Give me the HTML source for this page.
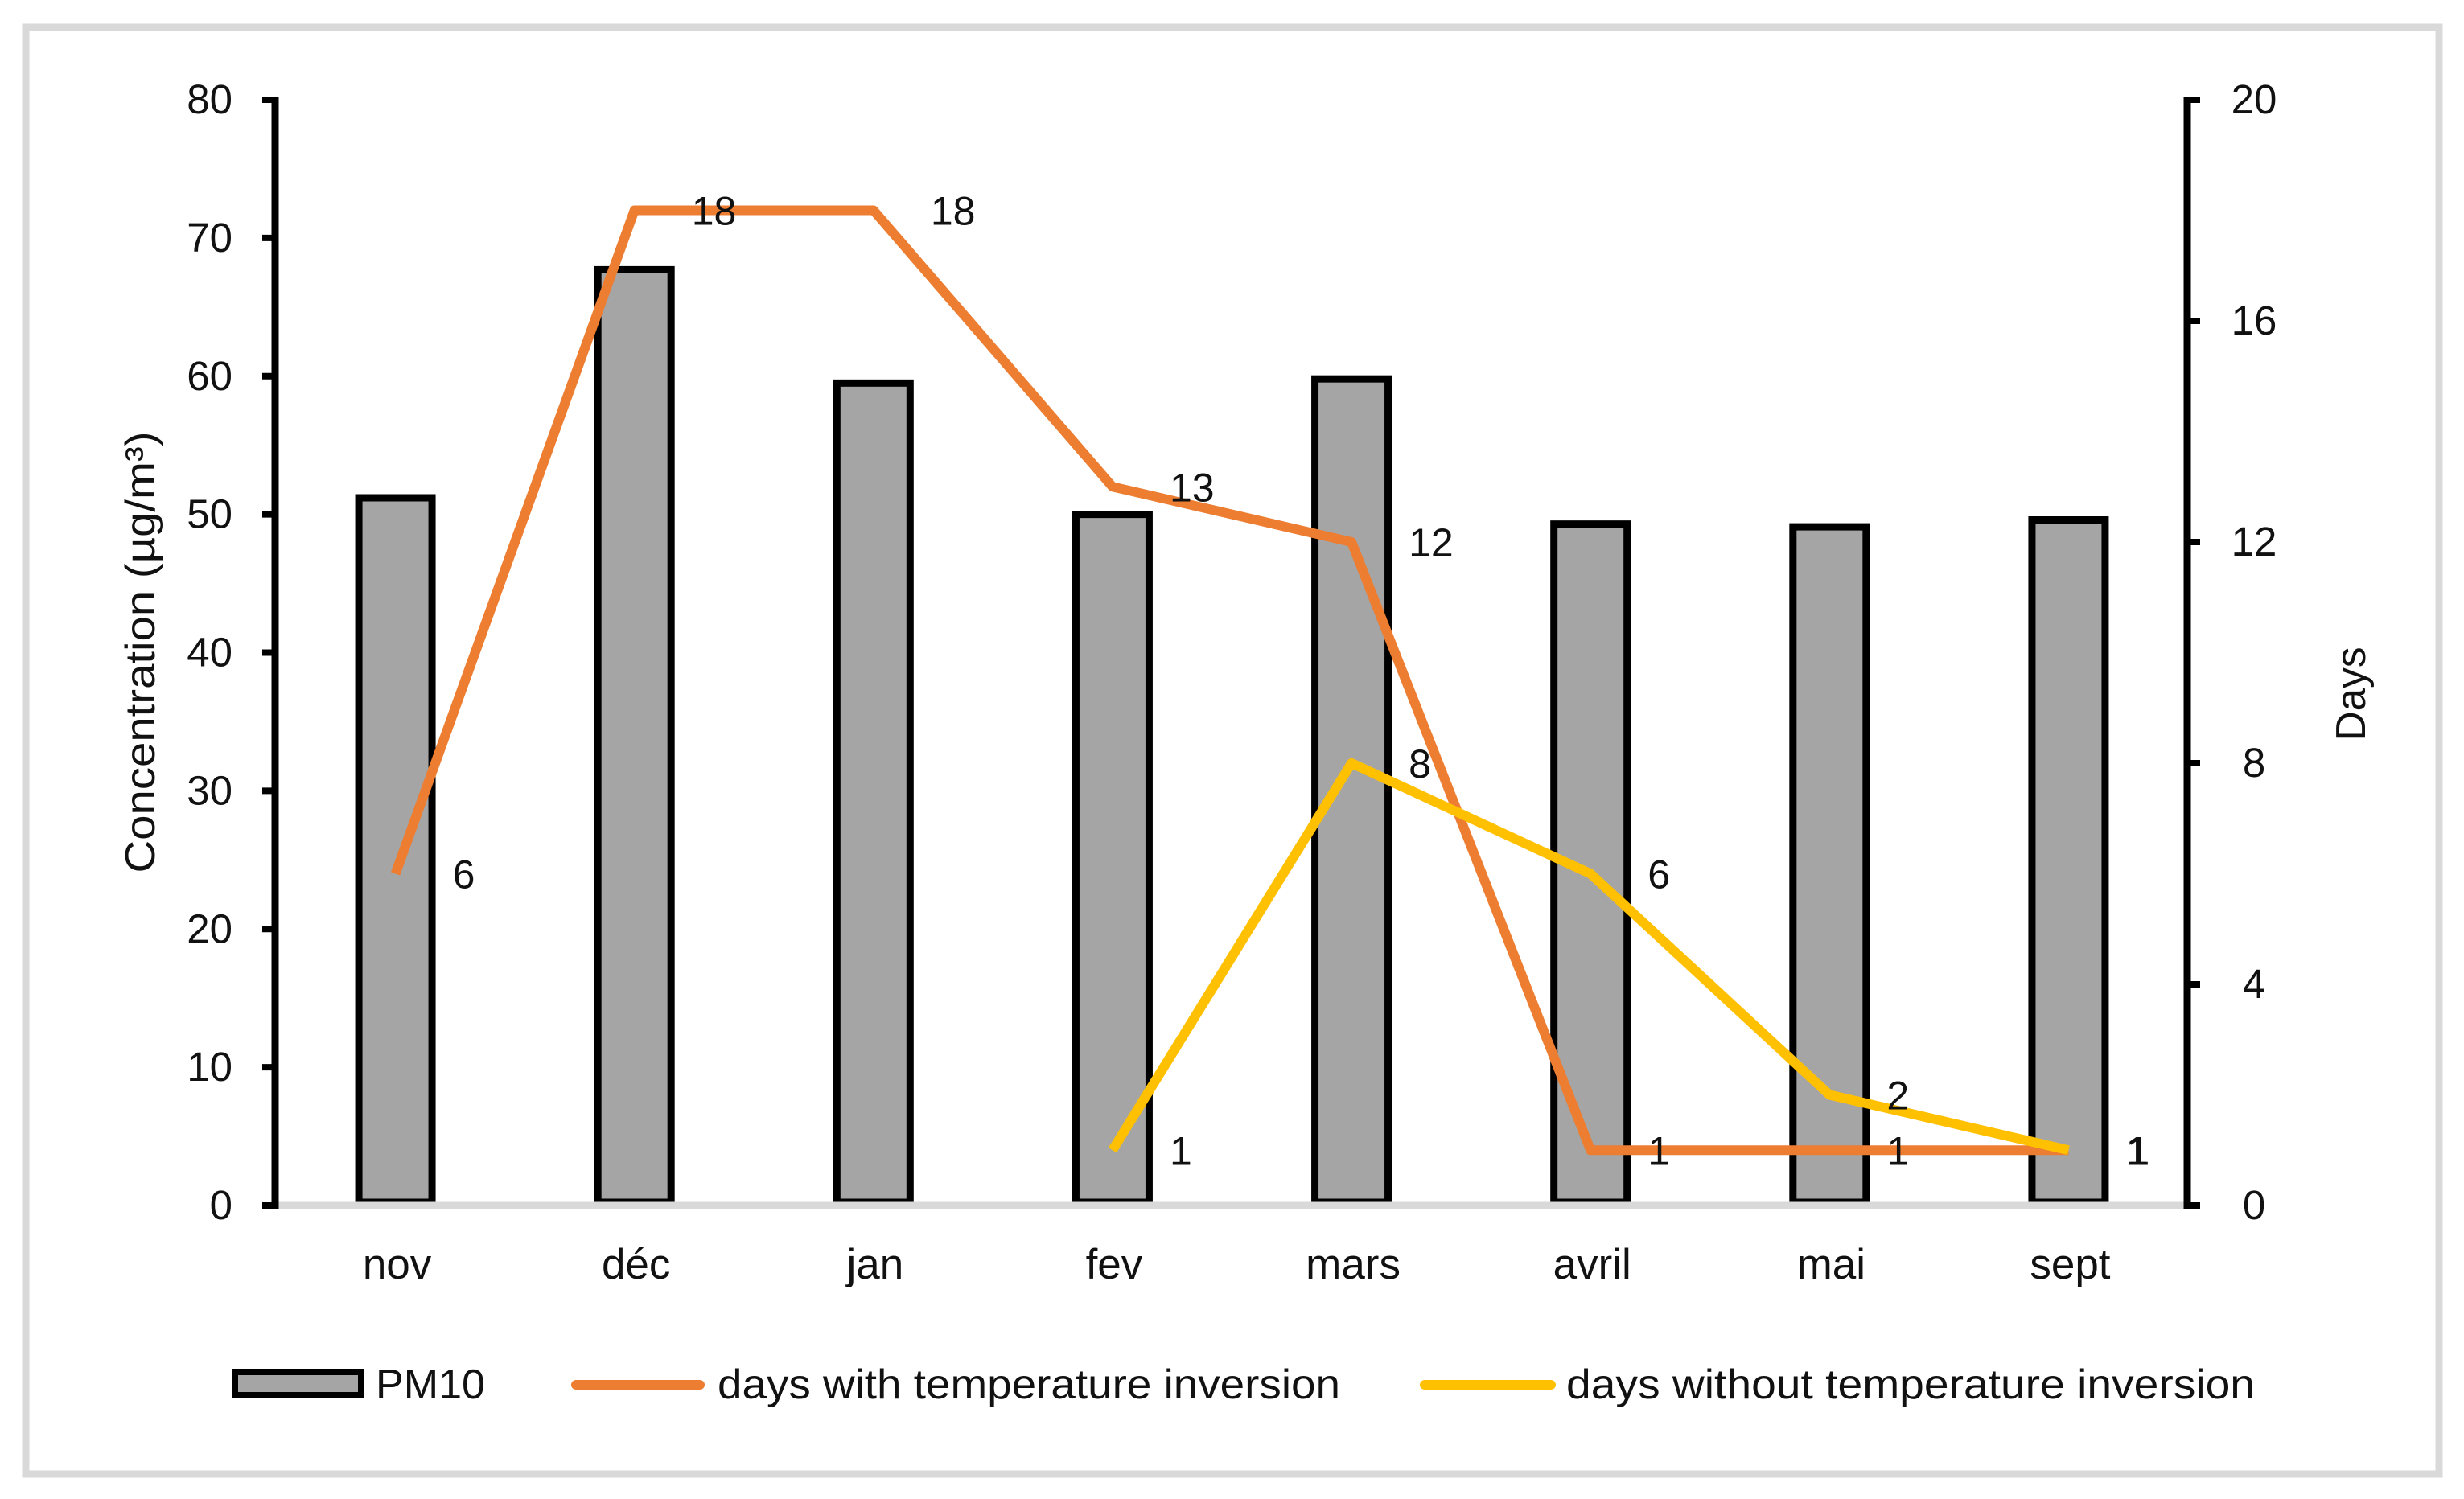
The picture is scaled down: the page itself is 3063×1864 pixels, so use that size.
<!DOCTYPE html>
<html lang="en">
<head>
<meta charset="utf-8">
<title>PM10 and temperature inversion days</title>
<style>
html,body{margin:0;padding:0;background:#fff;}
svg{display:block;}
text{font-family:"Liberation Sans",sans-serif;fill:#111;}
</style>
</head>
<body>
<svg id="chart" xmlns="http://www.w3.org/2000/svg" width="3063" height="1864" viewBox="0 0 3063 1864">
  <rect x="32" y="34" width="3000" height="1799" fill="#ffffff" stroke="#d9d9d9" stroke-width="9"/>
  <g id="plot"></g>
  <text transform="translate(192,811) rotate(-90)" text-anchor="middle" font-size="52" textLength="549" lengthAdjust="spacingAndGlyphs">Concentration (µg/m³)</text>
  <text transform="translate(2940,863) rotate(-90)" text-anchor="middle" font-size="52" textLength="117" lengthAdjust="spacingAndGlyphs">Days</text>
  <g>
    <rect x="292" y="1706" width="157" height="29" fill="#a5a5a5" stroke="#000000" stroke-width="8"/>
    <text x="467" y="1739" font-size="52" textLength="136" lengthAdjust="spacingAndGlyphs">PM10</text>
    <line x1="716" y1="1722" x2="870" y2="1722" stroke="#ed7d31" stroke-width="12" stroke-linecap="round"/>
    <text x="892" y="1739" font-size="52" textLength="774" lengthAdjust="spacingAndGlyphs">days with temperature inversion</text>
    <line x1="1771" y1="1722" x2="1928" y2="1722" stroke="#ffc000" stroke-width="12" stroke-linecap="round"/>
    <text x="1947" y="1739" font-size="52" textLength="856" lengthAdjust="spacingAndGlyphs">days without temperature inversion</text>
  </g>
</svg>
<script>
const categories = ['nov', 'déc', 'jan', 'fev', 'mars', 'avril', 'mai', 'sept'];
const pm10Values = [51.2, 67.7, 59.5, 50, 59.8, 49.3, 49.1, 49.6];
const daysWithInversion = [6, 18, 18, 13, 12, 1, 1, 1];
const daysWithoutInversion = [null, null, null, 1, 8, 6, 2, 1];
const leftTicks = [0, 10, 20, 30, 40, 50, 60, 70, 80];
const rightTicks = [0, 4, 8, 12, 16, 20];

const NS = 'http://www.w3.org/2000/svg';
const plot = document.getElementById('plot');
const left = 342, right = 2719, top_ = 124, bottom = 1499;
const leftMax = 80, rightMax = 20;
const band = (right - left) / categories.length;
const xPos = i => left + band * (i + 0.5) + 1;
const yLeft = v => bottom - (v / leftMax) * (bottom - top_);
const yRight = v => bottom - (v / rightMax) * (bottom - top_);

function make(tag, attrs, text) {
  const el = document.createElementNS(NS, tag);
  for (const k in attrs) el.setAttribute(k, attrs[k]);
  if (text !== undefined) el.textContent = text;
  plot.appendChild(el);
  return el;
}

// bars
pm10Values.forEach((v, i) => {
  const w = 91;
  const bar = make('rect', { x: xPos(i) - w / 2, y: yLeft(v), width: w, height: bottom - yLeft(v) - 4, fill: '#a5a5a5', stroke: '#000000', 'stroke-width': 9 });
  
  
});

// baseline
const baseline = make('line', { x1: left, y1: bottom, x2: right, y2: bottom, stroke: '#d9d9d9', 'stroke-width': 9 });



// axes
const leftAxis = make('line', { x1: left, y1: top_ - 4, x2: left, y2: bottom + 4, stroke: '#000', 'stroke-width': 9 });


const rightAxis = make('line', { x1: right, y1: top_ - 4, x2: right, y2: bottom + 4, stroke: '#000', 'stroke-width': 9 });



leftTicks.forEach(t => {
  const tick = make('line', { x1: left - 16, y1: yLeft(t), x2: left, y2: yLeft(t), stroke: '#000', 'stroke-width': 8 });
  
  
  const label = make('text', { x: 289, y: yLeft(t) + 17, 'text-anchor': 'end', 'font-size': 51 }, t);
  
  
});

rightTicks.forEach(t => {
  const tick = make('line', { x1: right, y1: yRight(t), x2: right + 16, y2: yRight(t), stroke: '#000', 'stroke-width': 8 });
  
  
  const label = make('text', { x: 2802, y: yRight(t) + 17, 'text-anchor': 'middle', 'font-size': 51 }, t);
  
  
});

categories.forEach((c, i) => {
  const label = make('text', { x: xPos(i) + 2, y: 1590, 'text-anchor': 'middle', 'font-size': 53 }, c);
  
  
});

// lines
function linePath(values) {
  let d = '';
  values.forEach((v, i) => {
    if (v === null) return;
    d += (d ? ' L' : 'M') + xPos(i) + ' ' + yRight(v);
  });
  return d;
}
const lineWith = make('path', { d: linePath(daysWithInversion), fill: 'none', stroke: '#ed7d31', 'stroke-width': 12, 'stroke-linejoin': 'round', 'stroke-linecap': 'butt' });


const lineWithout = make('path', { d: linePath(daysWithoutInversion), fill: 'none', stroke: '#ffc000', 'stroke-width': 12, 'stroke-linejoin': 'round', 'stroke-linecap': 'butt' });



// data labels
daysWithInversion.forEach((v, i) => {
  if (v === null) return;
  const label = make('text', { x: xPos(i) + 71, y: yRight(v) + 18, 'font-size': 50 }, v);
  
  
});
daysWithoutInversion.forEach((v, i) => {
  if (v === null) return;
  const nudge = daysWithInversion[i] === v ? 2 : 0;
  const label = make('text', { x: xPos(i) + 71 + nudge, y: yRight(v) + 18, 'font-size': 50 }, v);
  
  
});
</script>
</body>
</html>
